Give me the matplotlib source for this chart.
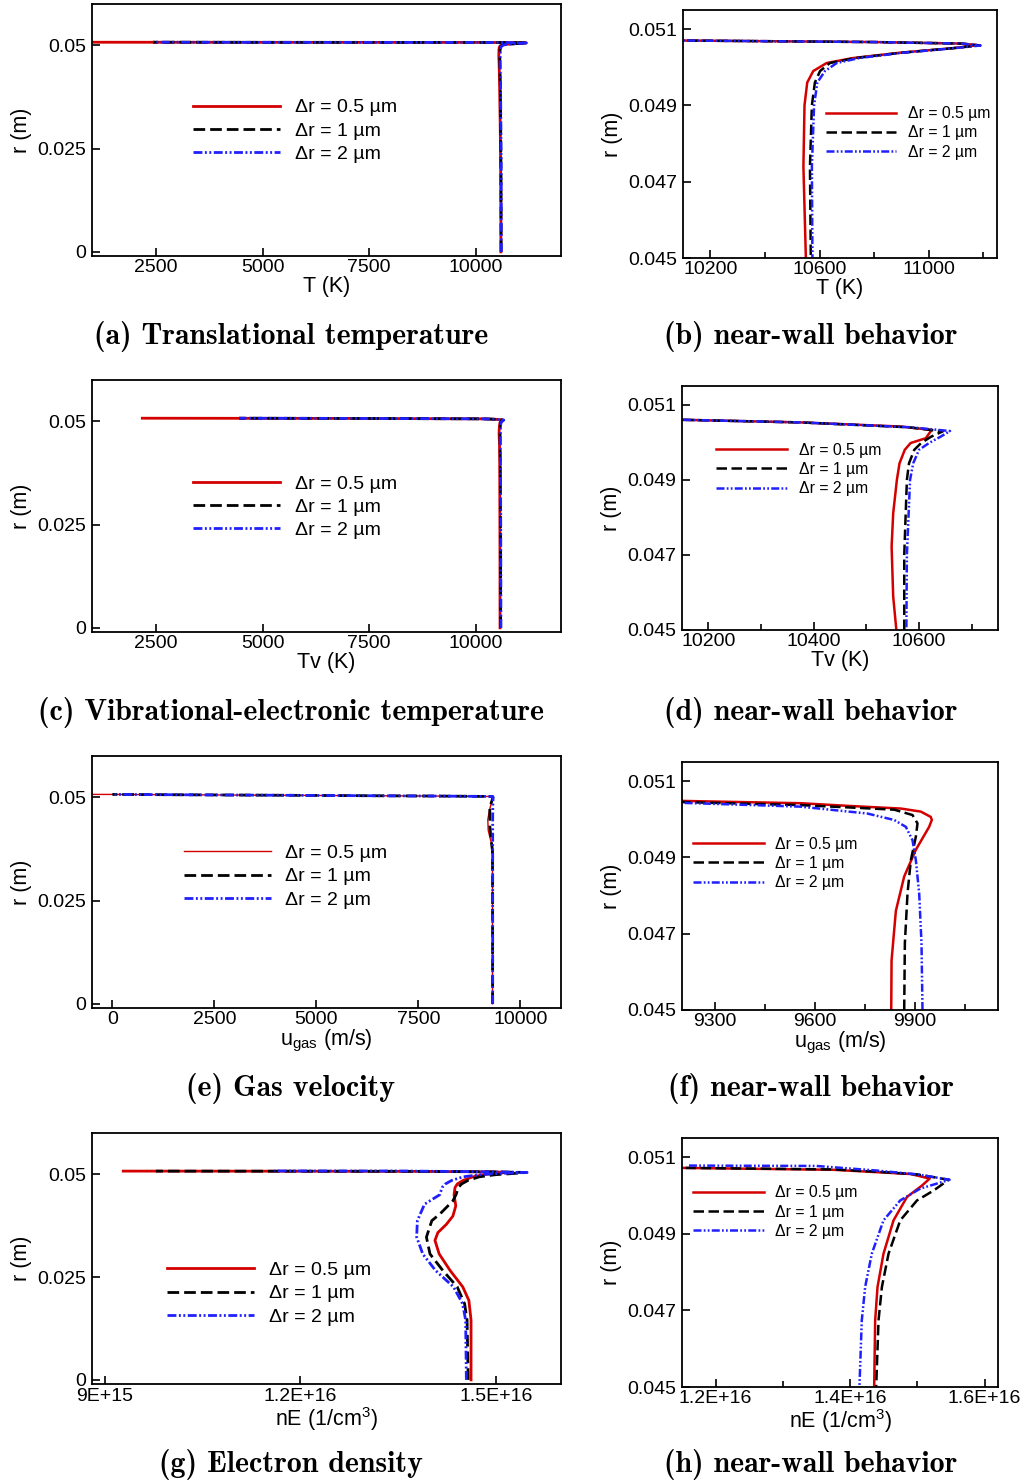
import numpy as np
import matplotlib.pyplot as plt
from matplotlib.ticker import FixedLocator, FuncFormatter

plt.rcParams['font.family'] = ['Liberation Sans', 'DejaVu Sans']
plt.rcParams['mathtext.fontset'] = 'custom'
plt.rcParams['mathtext.rm'] = 'Liberation Sans'

labels = ["\u0394r = 0.5 \u00b5m", "\u0394r = 1 \u00b5m", "\u0394r = 2 \u00b5m"]

# ---- translational temperature (a, b) ----
T_red_r = [0, 0.01, 0.02, 0.03, 0.04, 0.045, 0.0474, 0.0490, 0.0496, 0.0499, 0.05011, 0.05024,
           0.05038, 0.0505, 0.05058, 0.05062, 0.05066, 0.0507, 0.05072, 0.05075]
T_red = [10590, 10590, 10585, 10575, 10560, 10550, 10541, 10545, 10555, 10577, 10626, 10722,
         10894, 11088, 11179, 11120, 10800, 10100, 5000, 300]
T_blk_r = [0, 0.02, 0.04, 0.045, 0.0474, 0.0490, 0.0496, 0.0499, 0.05011, 0.05024, 0.05038,
           0.0505, 0.05057, 0.05062, 0.05066, 0.0507, 0.05072, 0.05075]
T_blk = [10595, 10592, 10578, 10568, 10565, 10572, 10583, 10602, 10638, 10730, 10900,
         11090, 11185, 11120, 10800, 10100, 5000, 2430]
T_blu_r = T_blk_r
T_blu = [10600, 10597, 10583, 10574, 10572, 10580, 10592, 10620, 10663, 10745, 10905,
         11095, 11190, 11120, 10800, 10100, 5000, 2430]

# ---- vibrational-electronic temperature (c, d) ----
Tv_red_r = [0, 0.02, 0.04, 0.045, 0.04589, 0.04722, 0.04811, 0.049, 0.04944, 0.0498, 0.04998,
            0.05011, 0.05033, 0.05042, 0.05053, 0.0506, 0.0507, 0.05075]
Tv_red = [10570, 10568, 10562, 10557, 10551, 10548, 10551, 10558, 10563, 10573, 10584,
          10613, 10624, 10565, 10375, 10150, 7000, 2180]
Tv_blk_r = [0, 0.02, 0.04, 0.045, 0.047, 0.049, 0.04944, 0.0498, 0.04998, 0.05015, 0.05029,
            0.0504, 0.05053, 0.0506, 0.0507, 0.05075]
Tv_blk = [10585, 10583, 10577, 10572, 10572, 10577, 10581, 10591, 10604, 10623, 10645,
          10580, 10375, 10150, 7000, 4450]
Tv_blu_r = [0, 0.02, 0.04, 0.045, 0.047, 0.049, 0.04944, 0.0498, 0.04998, 0.05015, 0.0503,
            0.0504, 0.05053, 0.0506, 0.0507, 0.05075]
Tv_blu = [10590, 10588, 10582, 10576, 10577, 10583, 10589, 10600, 10619, 10641, 10659,
          10585, 10375, 10150, 7000, 4450]

# ---- gas velocity, full profile (e) ----
u_red_r = [0, 0.01, 0.02, 0.03, 0.036, 0.039, 0.042, 0.0446, 0.047, 0.049, 0.0500, 0.0502,
           0.0503, 0.0505, 0.0507, 0.0507]
u_red = [9320, 9320, 9320, 9320, 9318, 9290, 9215, 9205, 9250, 9300, 9330, 9320,
         8000, 4000, 0, -480]
u_blk_r = [0, 0.01, 0.02, 0.03, 0.037, 0.0395, 0.043, 0.0475, 0.049, 0.0500, 0.0502, 0.0503,
           0.0505, 0.0507]
u_blk = [9322, 9322, 9322, 9322, 9320, 9290, 9255, 9255, 9300, 9332, 9320, 8000, 4000, 0]
u_blu_r = [0, 0.01, 0.02, 0.03, 0.04, 0.045, 0.048, 0.0500, 0.0502, 0.0503, 0.0505, 0.0507]
u_blu = [9325, 9325, 9325, 9325, 9325, 9325, 9328, 9335, 9320, 8000, 4000, 0]

# ---- gas velocity, near wall (f) ----
uw_red_r = [0.045, 0.0463, 0.0476, 0.0485, 0.0492, 0.0495, 0.0498, 0.04998, 0.05006, 0.0502,
            0.05028, 0.05035, 0.05042, 0.05048]
uw_red = [9829, 9830, 9843, 9868, 9903, 9923, 9943, 9951, 9948, 9918, 9858, 9700, 9556, 9200]
uw_blk_r = [0.045, 0.04675, 0.04806, 0.04893, 0.04954, 0.04989, 0.05011, 0.05025, 0.05031,
            0.05037, 0.05045]
uw_blk = [9868, 9870, 9878, 9888, 9903, 9908, 9893, 9838, 9700, 9556, 9200]
uw_blu_r = [0.045, 0.04675, 0.04806, 0.04893, 0.04945, 0.0498, 0.04998, 0.05015, 0.05033, 0.05043]
uw_blu = [9923, 9920, 9913, 9903, 9893, 9873, 9838, 9757, 9556, 9200]

# ---- electron density (g, h) ----
n_red_r = [0, 0.0145, 0.0193, 0.0226, 0.0266, 0.0306, 0.0339, 0.0358, 0.0378, 0.0398, 0.0423,
           0.045, 0.04674, 0.04761, 0.04848, 0.04935, 0.04996, 0.05026, 0.05044, 0.05056,
           0.05067, 0.05072, 0.05074]
n_red = [1.4619e16, 1.4619e16, 1.4586e16, 1.4492e16, 1.4297e16, 1.413e16, 1.4065e16, 1.411e16,
         1.424e16, 1.434e16, 1.4385e16, 1.4358e16, 1.4373e16, 1.4408e16, 1.4497e16, 1.4646e16,
         1.4846e16, 1.507e16, 1.5184e16, 1.49e16, 1.375e16, 1.15e16, 9.28e15]
n_blk_r = [0, 0.0145, 0.0185, 0.0226, 0.0266, 0.0306, 0.0347, 0.0387, 0.0403, 0.0435, 0.045,
           0.04674, 0.04761, 0.04848, 0.04935, 0.04987, 0.05013, 0.05041, 0.05055, 0.05062,
           0.05068, 0.05072, 0.05074]
n_blk = [1.4575e16, 1.4558e16, 1.452e16, 1.4407e16, 1.4185e16, 1.3989e16, 1.3934e16, 1.4017e16,
         1.414e16, 1.434e16, 1.4388e16, 1.4423e16, 1.4473e16, 1.4572e16, 1.4746e16, 1.4995e16,
         1.5243e16, 1.5467e16, 1.50e16, 1.44e16, 1.375e16, 1.15e16, 9.78e15]
n_blu_r = [0, 0.0145, 0.0185, 0.0226, 0.0266, 0.0306, 0.0347, 0.0387, 0.0427, 0.045, 0.04674,
           0.04761, 0.04848, 0.04935, 0.04987, 0.05018, 0.05041, 0.05055, 0.05065, 0.05077,
           0.05078]
n_blu = [1.4547e16, 1.4536e16, 1.449e16, 1.435e16, 1.4073e16, 1.3878e16, 1.3784e16, 1.3795e16,
         1.3905e16, 1.4139e16, 1.4174e16, 1.4224e16, 1.4323e16, 1.4497e16, 1.4746e16, 1.5045e16,
         1.548e16, 1.50e16, 1.44e16, 1.35e16, 1.16e16]

captions = ["(a) Translational temperature", "(b) near-wall behavior",
            "(c) Vibrational-electronic temperature", "(d) near-wall behavior",
            "(e) Gas velocity", "(f) near-wall behavior",
            "(g) Electron density", "(h) near-wall behavior"]

W, H = 1027, 1484
fig = plt.figure(figsize=(W / 100, H / 100), dpi=100)


def px_axes(left, top, right, bottom):
    return fig.add_axes([left / W, 1 - bottom / H, (right - left) / W, (bottom - top) / H])


RED, BLK, BLU = '#d40000', 'black', '#2020ff'
LABEL_FS = 15.5


def draw(ax, series, lw, red_lw=None):
    (xr, yr), (xk, yk), (xb, yb) = series
    h1, = ax.plot(xr, yr, color=RED, lw=red_lw or lw, solid_joinstyle='round')
    h2, = ax.plot(xk, yk, color=BLK, lw=lw, dashes=(4.2, 1.8))
    h3, = ax.plot(xb, yb, color=BLU, lw=lw, dashes=(3.2, 0.9, 0.7, 0.9, 0.7, 0.9))
    return [h1, h2, h3]


def style(ax, xlim, ylim, xmaj, ymaj, xmin=None, fmt='%g', xpad=2):
    ax.set_xlim(*xlim)
    ax.set_ylim(*ylim)
    ax.xaxis.set_major_locator(FixedLocator(xmaj))
    ax.yaxis.set_major_locator(FixedLocator(ymaj))
    if xmin is not None:
        ax.xaxis.set_minor_locator(FixedLocator(xmin))
    ax.xaxis.set_major_formatter(FuncFormatter(lambda v, p: fmt % v))
    ax.yaxis.set_major_formatter(FuncFormatter(lambda v, p: '%g' % v))
    ax.tick_params(which='both', direction='in', top=False, right=False, labelsize=14,
                   width=1.2)
    ax.tick_params(which='major', length=6)
    ax.tick_params(which='minor', length=4)
    ax.tick_params(axis='x', pad=xpad)
    ax.tick_params(axis='y', pad=4)
    for s in ax.spines.values():
        s.set_linewidth(1.3)
    ax.set_ylabel('r (m)', fontsize=LABEL_FS, labelpad=4)


def legend(ax, hs, x, y, fs, hl, sp):
    ax.legend(hs, labels, loc='upper left', bbox_to_anchor=(x, y), frameon=False, fontsize=fs,
              handlelength=hl, handletextpad=0.75, labelspacing=sp, borderpad=0,
              borderaxespad=0)


full_y = (-0.001, 0.06)
full_yt = [0, 0.025, 0.05]
wall_y = (0.045, 0.0515)
wall_yt = [0.045, 0.047, 0.049, 0.051]

# (a)
ax = px_axes(92, 4, 561, 256)
hs = draw(ax, [(T_red, T_red_r), (T_blk, T_blk_r), (T_blu, T_blu_r)], 2.0)
style(ax, (1000, 12000), full_y, [2500, 5000, 7500, 10000], full_yt)
ax.set_xlabel('T (K)', fontsize=LABEL_FS, labelpad=0)
legend(ax, hs, 0.216, 0.624, 14, 4.47, 0.29)

# (b)
ax = px_axes(683, 10, 997, 258)
hs = draw(ax, [(T_red, T_red_r), (T_blk, T_blk_r), (T_blu, T_blu_r)], 1.8)
style(ax, (10100, 11250), wall_y, [10200, 10600, 11000], wall_yt, [10400, 10800, 11200])
ax.set_xlabel('T (K)', fontsize=LABEL_FS, labelpad=0)
legend(ax, hs, 0.454, 0.612, 11.3, 4.5, 0.27)

# (c)
ax = px_axes(92, 380, 561, 632)
hs = draw(ax, [(Tv_red, Tv_red_r), (Tv_blk, Tv_blk_r), (Tv_blu, Tv_blu_r)], 2.0)
style(ax, (1000, 12000), full_y, [2500, 5000, 7500, 10000], full_yt)
ax.set_xlabel('Tv (K)', fontsize=LABEL_FS, labelpad=0)
legend(ax, hs, 0.216, 0.623, 14, 4.47, 0.29)

# (d)
ax = px_axes(682, 386, 998, 630)
hs = draw(ax, [(Tv_red, Tv_red_r), (Tv_blk, Tv_blk_r), (Tv_blu, Tv_blu_r)], 1.8)
style(ax, (10150, 10750), wall_y, [10200, 10400, 10600], wall_yt, [10300, 10500, 10700])
ax.set_xlabel('Tv (K)', fontsize=LABEL_FS, labelpad=0)
legend(ax, hs, 0.109, 0.768, 11.3, 4.5, 0.27)

# (e)
ax = px_axes(92, 756, 561, 1008)
hs = draw(ax, [(u_red, u_red_r), (u_blk, u_blk_r), (u_blu, u_blu_r)], 2.0, red_lw=1.0)
style(ax, (-500, 11000), full_y, [0, 2500, 5000, 7500, 10000], full_yt)
ax.set_xlabel(r'u$_{\mathregular{gas}}$ (m/s)', fontsize=LABEL_FS, labelpad=0)
legend(ax, hs, 0.196, 0.649, 14, 4.47, 0.29)

# (f)
ax = px_axes(682, 762, 998, 1010)
hs = draw(ax, [(uw_red, uw_red_r), (uw_blk, uw_blk_r), (uw_blu, uw_blu_r)], 1.8)
style(ax, (9200, 10150), wall_y, [9300, 9600, 9900], wall_yt, [9450, 9750, 10050])
ax.set_xlabel(r'u$_{\mathregular{gas}}$ (m/s)', fontsize=LABEL_FS, labelpad=0)
legend(ax, hs, 0.035, 0.699, 11.3, 4.5, 0.27)

# (g)
ax = px_axes(92, 1133, 561, 1384)
hs = draw(ax, [(n_red, n_red_r), (n_blk, n_blk_r), (n_blu, n_blu_r)], 2.0)
style(ax, (8.8e15, 1.6e16), full_y, [9e15, 1.2e16, 1.5e16], full_yt, fmt='%G', xpad=3)
ax.set_xlabel(r'nE (1/cm$^{\mathregular{3}}$)', fontsize=LABEL_FS, labelpad=0)
legend(ax, hs, 0.16, 0.488, 14, 4.47, 0.29)

# (h)
ax = px_axes(682, 1138, 998, 1387)
hs = draw(ax, [(n_red, n_red_r), (n_blk, n_blk_r), (n_blu, n_blu_r)], 1.8)
style(ax, (1.15e16, 1.62e16), wall_y, [1.2e16, 1.4e16, 1.6e16], wall_yt, [1.3e16, 1.5e16],
      fmt='%G')
ax.set_xlabel(r'nE (1/cm$^{\mathregular{3}}$)', fontsize=LABEL_FS, labelpad=0)
legend(ax, hs, 0.035, 0.81, 11.3, 4.5, 0.27)

cap_pos = [(291, 337), (811, 337), (291, 713), (811, 713),
           (291, 1089), (811, 1089), (291, 1465), (811, 1465)]
for (cx, cy), text in zip(cap_pos, captions):
    fig.text(cx / W, 1 - cy / H, text, ha='center', va='center', fontfamily='cmb10',
             fontsize=21.5)

fig.savefig('out.png', dpi=100)
